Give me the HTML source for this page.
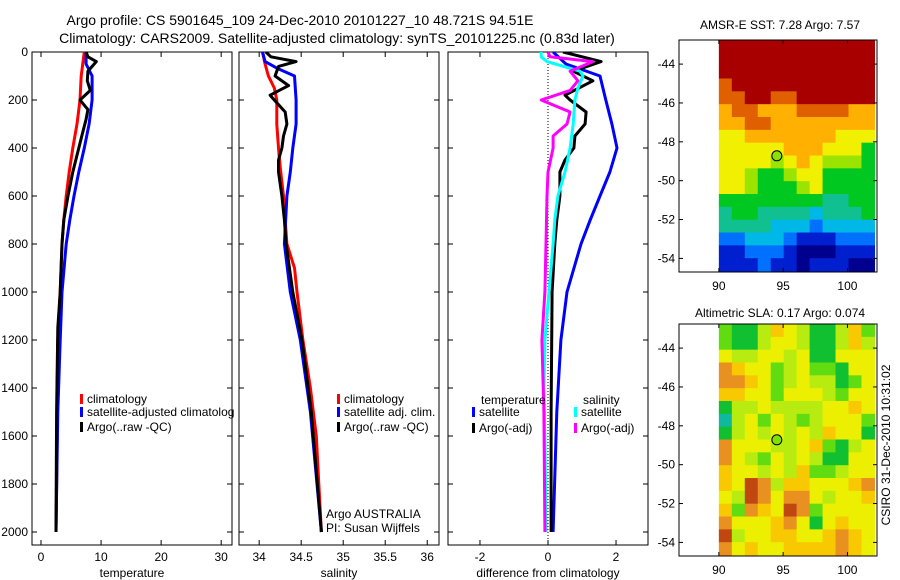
<!DOCTYPE html>
<html><head><meta charset="utf-8">
<style>
body{margin:0;background:#fff;}
svg{display:block;font-family:"Liberation Sans",sans-serif;}
</style></head>
<body>
<svg id="fig" width="900" height="580" viewBox="0 0 900 580">
<text x="300" y="25" font-size="14" text-anchor="middle">Argo profile: CS 5901645_109 24-Dec-2010 20101227_10 48.721S 94.51E</text>
<text x="337" y="43" font-size="14" text-anchor="middle">Climatology: CARS2009. Satellite-adjusted climatology: synTS_20101225.nc (0.83d later)</text>
<text x="780" y="29" font-size="12" text-anchor="middle">AMSR-E SST: 7.28 Argo: 7.57</text>
<text x="780" y="317" font-size="12" text-anchor="middle">Altimetric SLA: 0.17 Argo: 0.074</text>
<text transform="translate(890,445) rotate(-90)" font-size="12" text-anchor="middle">CSIRO 31-Dec-2010 10:31:02</text>
<text x="326" y="518" font-size="12">Argo AUSTRALIA</text>
<text x="326" y="532" font-size="12">PI: Susan Wijffels</text>
</svg>
<script>
// ---- profile data ----
const tempClimDepth=[0,100,200,300,400,500,600,700,800,1000,1200,1400,1600,2000];
const tempClim=[7.2,6.7,6.5,6,5.3,4.7,4.2,3.8,3.5,3.2,2.8,2.7,2.7,2.5];
const tempSatDepth=[0,50,100,200,300,400,500,600,700,800,1000,1200,1500,2000];
const tempSat=[7.5,7.5,8.5,8.5,8,7.2,6.3,5.5,4.8,4.2,3.5,3.2,2.8,2.5];
const tempArgoDepth=[0,20,40,80,120,160,200,240,280,350,400,500,600,700,800,1000,1150,1500,2000];
const tempArgo=[7.5,7.8,9.2,7.8,7.7,8.2,6.5,7.8,7.5,6.8,6.3,5.3,4.5,3.8,3.5,3.2,2.8,2.6,2.5];

const salClimDepth=[0,50,100,150,200,300,400,480,600,800,900,1000,1200,1400,1600,1800,2000];
const salClim=[34.04,34.07,34.11,34.18,34.21,34.21,34.23,34.25,34.29,34.33,34.42,34.45,34.52,34.61,34.68,34.71,34.74];
const salSatDepth=[0,40,67,100,200,300,400,500,600,800,1000,1200,1500,2000];
const salSat=[34.04,34.07,34.21,34.42,34.44,34.44,34.4,34.37,34.33,34.3,34.37,34.49,34.61,34.74];
const salArgoDepth=[0,20,40,60,100,140,180,200,250,300,350,400,450,500,600,700,800,1000,1200,1500,2000];
const salArgo=[34.08,34.14,34.44,34.23,34.19,34.35,34.13,34.18,34.31,34.33,34.29,34.27,34.23,34.23,34.27,34.3,34.32,34.4,34.51,34.62,34.74];

const diffTSatDepth=[0,50,100,200,300,400,500,600,700,800,1000,1200,1500,2000];
const diffTSat=[0.15,0.53,1.53,1.7,1.88,2.03,1.82,1.53,1.24,0.97,0.56,0.38,0.26,0.15];
const diffTArgoDepth=[0,40,80,120,180,200,250,300,350,400,450,500,600,700,800,1000,1500,2000];
const diffTArgo=[0.44,1.56,0.74,1.32,0.5,0.65,1.12,1.09,0.79,0.76,0.5,0.35,0.35,0.26,0.2,0.12,0.09,0.09];
const diffSSatDepth=[0,20,40,80,100,150,200,300,400,500,600,700,800,1000,1200,1400,1600,2000];
const diffSSat=[-0.2,-0.2,-0.03,0.94,1.03,0.88,0.79,0.74,0.65,0.5,0.29,0.2,0.15,0.03,-0.09,-0.12,-0.09,-0.06];
const diffSArgoDepth=[0,20,40,80,120,160,200,250,300,350,400,500,600,800,1000,1200,1500,2000];
const diffSArgo=[0,0.06,1.32,0.65,0.88,0.65,-0.2,0.65,0.56,0.15,0.15,0,-0.03,-0.06,-0.09,-0.18,-0.12,-0.09];

const depthTicks=[0,200,400,600,800,1000,1200,1400,1600,1800,2000];
const tempTicks=[0,10,20,30];
const salTicks=[34,34.5,35,35.5,36];
const diffTicks=[-2,0,2];

// ---- map data (coarse grids, rows top->bottom, 12 cols) ----
const sstGrid=[
[10,10,10,10,10,10,10,10,10,10,10,10],
[10,10,10,10,10,10,10,10,10,10,10,10],
[10,10,10,10,10,10,10,10,10,10,10,10],
[9,10,10,10,10,10,10,10,10,10,10,10],
[9,9,10,10,9,9,10,10,10,10,10,10],
[8,9,9,8,8,8,9,9,9,9,8,8],
[8,8,9,9,8,8,8,8,8,8,8,8],
[7,7,8,8,8,8,8,8,8,7,7,7],
[7,7,7,7,7,8,8,8,7,7,7,5],
[7,7,7,7,6,7,8,7,6,6,6,5],
[7,7,6,5,5,6,7,7,5,5,5,5],
[7,7,6,5,5,5,6,7,5,5,5,5],
[5,5,5,5,5,5,5,5,4,4,5,5],
[4,5,5,4,4,4,4,3,4,4,4,5],
[4,4,4,4,3,3,3,2,3,3,3,3],
[2,2,3,3,3,2,1,1,1,2,2,2],
[1,1,2,2,2,1,0,0,0,1,1,1],
[1,1,1,2,1,1,0,1,1,1,0,0]];
const slaGrid=[
[2,1,1,3,5,4,3,1,1,3,5,2],
[2,1,1,3,4,4,3,1,1,3,5,3],
[4,3,3,4,4,3,4,1,1,4,4,4],
[6,5,4,4,2,3,4,2,2,1,4,4],
[6,6,5,4,2,3,4,3,3,1,2,4],
[5,5,4,4,2,4,4,4,3,2,4,4],
[1,3,3,4,3,3,3,3,4,4,5,4],
[0,3,4,2,4,3,2,3,4,4,4,2],
[1,3,4,3,4,3,4,3,5,4,4,1],
[6,4,4,4,3,3,4,5,2,1,3,4],
[6,4,3,2,4,3,4,3,1,1,4,4],
[5,4,4,3,4,3,5,2,2,3,4,4],
[5,4,7,6,3,5,5,4,4,4,5,6],
[4,3,7,6,4,6,6,4,3,4,4,5],
[5,2,6,5,4,7,6,2,4,4,4,4],
[6,4,4,4,5,6,4,1,4,5,4,4],
[7,3,4,4,5,5,4,4,5,6,5,4],
[6,4,5,4,4,5,5,5,5,6,5,4]];
const sstColors=['#00008f','#0020d0','#0070ff','#00b8e8','#10c090','#00c820','#9ae400','#f0f000','#ffb000','#e06000','#a80000'];
const slaColors=['#10b8a0','#10c030','#60dc10','#b8ec10','#ecf000','#f8c800','#e89020','#c04810'];
const lonTicks=[90,95,100];
const latTicks=[-44,-46,-48,-50,-52,-54];
const argoLon=94.51, argoLat=-48.72;

const NS='http://www.w3.org/2000/svg';
const svg=document.getElementById('fig');
function mk(tag,attrs,parent){const e=document.createElementNS(NS,tag);for(const k in attrs)e.setAttribute(k,attrs[k]);(parent||svg).appendChild(e);return e;}

const Y0=52, PXD=0.24, YB=545;
function ydepth(d){return Y0+d*PXD;}

function panel(name,L,R,xmin,xmax,xt,xlabel,yLabels){
  const g=mk('g',{});
  
  
  const sx=v=>L+(v-xmin)/(xmax-xmin)*(R-L);
  const clip=mk('clipPath',{id:'c'+name},g);
  mk('rect',{x:L,y:Y0,width:R-L,height:YB-Y0},clip);
  const frame=mk('rect',{x:L,y:Y0,width:R-L,height:YB-Y0,fill:'none',stroke:'#000','stroke-width':1},g);
  
  
  depthTicks.forEach(d=>{
    const y=ydepth(d);
    mk('line',{x1:L,x2:L+5,y1:y,y2:y,stroke:'#000'},g);
    mk('line',{x1:R-5,x2:R,y1:y,y2:y,stroke:'#000'},g);
    if(yLabels){const t=mk('text',{x:L-4,y:y+4,'font-size':12,'text-anchor':'end'},g);t.textContent=d;
      
      }
  });
  xt.forEach(v=>{
    const x=sx(v);
    mk('line',{x1:x,x2:x,y1:YB-5,y2:YB,stroke:'#000'},g);
    mk('line',{x1:x,x2:x,y1:Y0,y2:Y0+5,stroke:'#000'},g);
    const t=mk('text',{x:x,y:561,'font-size':12,'text-anchor':'middle'},g);t.textContent=v;
    
    
  });
  const tl=mk('text',{x:(L+R)/2,y:577,'font-size':12,'text-anchor':'middle'},g);tl.textContent=xlabel;
  
  
  const lines=mk('g',{'clip-path':'url(#c'+name+')'},g);
  return {g,sx,lines};
}
function series(p,depths,vals,color,name){
  const pts=depths.map((d,i)=>p.sx(vals[i]).toFixed(1)+','+ydepth(d).toFixed(1)).join(' ');
  const pl=mk('polyline',{points:pts,fill:'none',stroke:color,'stroke-width':3,'stroke-linejoin':'round'},p.lines);
  
  
}
function legend(x,y,color,label,clipW){
  const r=mk('rect',{x:x,y:y-9,width:3,height:10,fill:color});
  
  
  const t=mk('text',{x:x+7,y:y,'font-size':12});t.textContent=label;
  
  
  if(clipW){t.setAttribute('textLength',clipW);t.setAttribute('lengthAdjust','spacingAndGlyphs');}
}

// panel 1 temperature
const p1=panel('temperature-panel',32,232,-1.5,31.8,tempTicks,'temperature',true);
series(p1,tempClimDepth,tempClim,'#f00','temp-climatology-line');
series(p1,tempSatDepth,tempSat,'#00f','temp-satellite-line');
series(p1,tempArgoDepth,tempArgo,'#000','temp-argo-line');
// panel 2 salinity
const p2=panel('salinity-panel',239,439,33.76,36.14,salTicks,'salinity',false);
series(p2,salClimDepth,salClim,'#f00','sal-climatology-line');
series(p2,salSatDepth,salSat,'#00f','sal-satellite-line');
series(p2,salArgoDepth,salArgo,'#000','sal-argo-line');
// panel 3 differences
const p3=panel('difference-panel',448,648,-2.94,2.94,diffTicks,'difference from climatology',false);
const zx=p3.sx(0);
const zl=mk('line',{x1:zx,x2:zx,y1:Y0,y2:YB,stroke:'#000','stroke-dasharray':'1,2'},p3.lines);


series(p3,diffTSatDepth,diffTSat,'#00f','diff-temp-satellite-line');
series(p3,diffTArgoDepth,diffTArgo,'#000','diff-temp-argo-line');
series(p3,diffSSatDepth,diffSSat,'#0ff','diff-sal-satellite-line');
series(p3,diffSArgoDepth,diffSArgo,'#f0f','diff-sal-argo-line');

legend(80,403,'#f00','climatology');
legend(80,416,'#00f','satellite-adjusted climatolog');
legend(80,431,'#000','Argo(..raw -QC)');
legend(337,403,'#f00','climatology');
legend(337,416,'#00f','satellite adj. clim.');
legend(337,431,'#000','Argo(..raw -QC)');
const th=mk('text',{x:481,y:404,'font-size':12});th.textContent='temperature';


const sh=mk('text',{x:583,y:404,'font-size':12});sh.textContent='salinity';


legend(472,416,'#00f','satellite');
legend(472,432,'#000','Argo(-adj)');
legend(574,416,'#0ff','satellite');
legend(574,432,'#f0f','Argo(-adj)');

// maps
function map(name,top,grid,colors,argoColor){
  const L=679,R=877,B=top+232;
  const lonMin=86.9,lonMax=102.3,latTop=-42.76,latBot=-54.7;
  const sx=v=>L+(v-lonMin)/(lonMax-lonMin)*(R-L);
  const sy=v=>top+(latTop-v)/(latTop-latBot)*(B-top);
  const g=mk('g',{});
  
  
  const dL=sx(90),dR=sx(102.1),dT=top,dB=sy(-54.65);
  const rows=grid.length,cols=grid[0].length;
  const cw=(dR-dL)/cols,ch=(dB-dT)/rows;
  grid.forEach((row,i)=>row.forEach((v,j)=>{
    const c=mk('rect',{x:dL+j*cw,y:dT+i*ch,width:cw+0.6,height:ch+0.6,fill:colors[v]},g);
    
    
  }));
  const f=mk('rect',{x:L,y:top,width:R-L,height:B-top,fill:'none',stroke:'#000'},g);
  
  
  lonTicks.forEach(v=>{const x=sx(v);
    mk('line',{x1:x,x2:x,y1:B-4,y2:B,stroke:'#000'},g);
    mk('line',{x1:x,x2:x,y1:top,y2:top+4,stroke:'#000'},g);
    const t=mk('text',{x:x,y:B+18,'font-size':12,'text-anchor':'middle'},g);t.textContent=v;
    
    });
  latTicks.forEach(v=>{const y=sy(v);
    mk('line',{x1:L,x2:L+4,y1:y,y2:y,stroke:'#000'},g);
    mk('line',{x1:R-4,x2:R,y1:y,y2:y,stroke:'#000'},g);
    const t=mk('text',{x:L-4,y:y+4,'font-size':12,'text-anchor':'end'},g);t.textContent=v;
    
    });
  const m=mk('circle',{cx:sx(argoLon),cy:sy(argoLat),r:5,fill:argoColor,stroke:'#000','stroke-width':1},g);
  
  
}
map('sst-map',40,sstGrid,sstColors,'#8ee000');
map('sla-map',324,slaGrid,slaColors,'#80e000');
</script>
</body></html>
